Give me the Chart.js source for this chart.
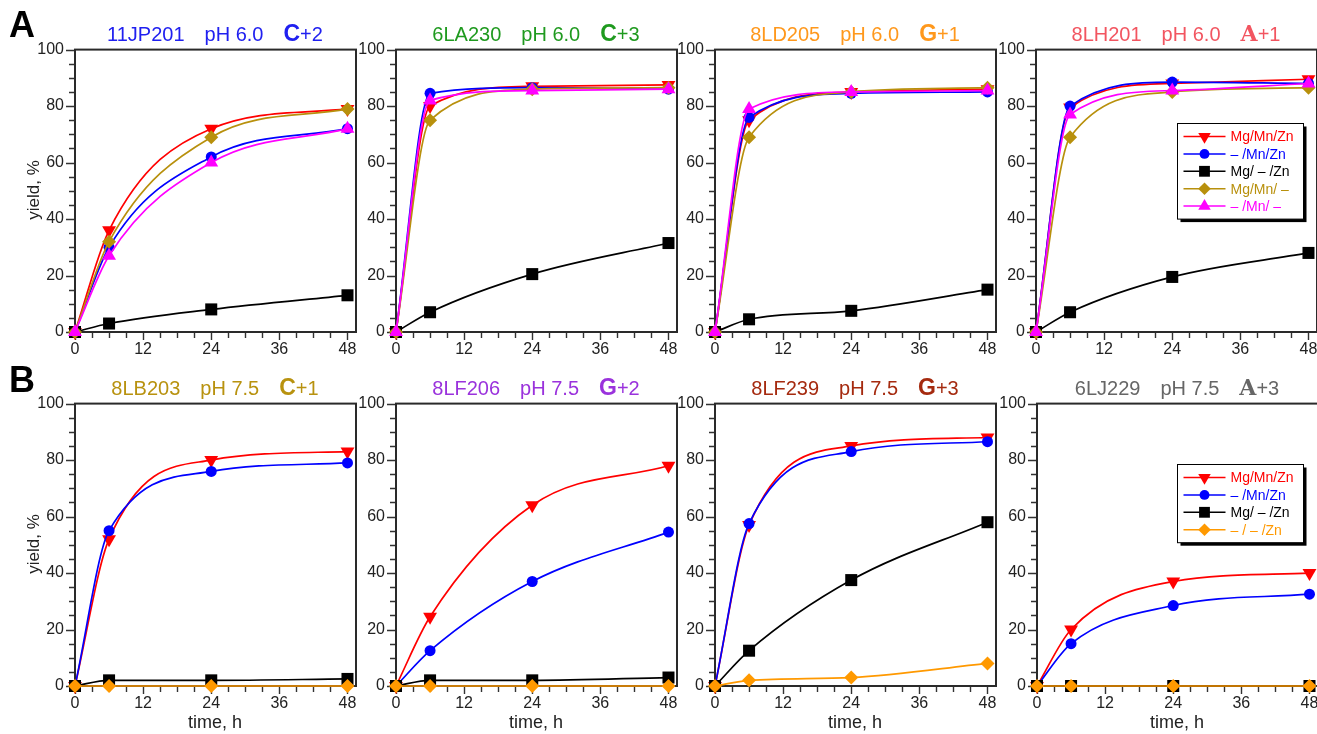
<!DOCTYPE html>
<html>
<head>
<meta charset="utf-8">
<script src="https://cdn.jsdelivr.net/npm/chart.js@4.4.0/dist/chart.umd.min.js"></script>
<style>
  html, body { margin: 0; padding: 0; background: #fff; overflow: hidden; }
  #fig { position: relative; width: 1317px; height: 734px; overflow: hidden; font-family: "Liberation Sans", Arial, sans-serif; }
  #fig canvas { position: absolute; }
  .ttl { position: absolute; white-space: nowrap; font-size: 20px; line-height: 20px; transform: translateX(-50%); z-index: 5; }
  .ttl span { margin-left: 20px; }
  .ttl span:first-child { margin-left: 0; }
  .ttl b { font-size: 23px; }
  .ttl b.mono { font-family: "DejaVu Serif", "Liberation Serif", serif; font-size: 22px; }
  .letter { position: absolute; left: 9px; font-weight: bold; font-size: 36px; line-height: 36px; z-index: 5; }
  .ylab { position: absolute; font-size: 17px; line-height: 17px; color: #222; white-space: nowrap; transform: translate(-50%, -50%) rotate(-90deg); z-index: 5; }
  .xlab { position: absolute; font-size: 18px; line-height: 18px; color: #222; white-space: nowrap; transform: translate(-50%, -50%); z-index: 5; }
</style>
</head>
<body>
<div id="fig">
  <div class="letter" style="top:7px">A</div>
  <div class="letter" style="top:362px">B</div>
</div>
<script>
// sampling times (h) and axis ticks
const times = [0, 6, 24, 48];
const xTicks = [0, 12, 24, 36, 48];
const yTicks = [0, 20, 40, 60, 80, 100];

const labelsA = ['Mg/Mn/Zn', '\u2013 /Mn/Zn', 'Mg/ \u2013 /Zn', 'Mg/Mn/ \u2013', '\u2013 /Mn/ \u2013'];
const labelsB = ['Mg/Mn/Zn', '\u2013 /Mn/Zn', 'Mg/ \u2013 /Zn', '\u2013 / \u2013 /Zn'];

// A1  11JP201
const jp201_MgMnZn = [0, 36, 72, 79];
const jp201_MnZn   = [0, 30, 62, 72];
const jp201_MgZn   = [0, 3, 8, 13];
const jp201_MgMn   = [0, 32, 69, 79];
const jp201_Mn     = [0, 27, 60, 72];
// A2  6LA230
const la230_MgMnZn = [0, 80, 87, 87.5];
const la230_MnZn   = [0, 84.5, 86.5, 86];
const la230_MgZn   = [0, 7, 20.5, 31.5];
const la230_MgMn   = [0, 75, 86, 86.5];
const la230_Mn     = [0, 82, 85.5, 86];
// A3  8LD205
const ld205_MgMnZn = [0, 75, 85, 86];
const ld205_MnZn   = [0, 76, 84.5, 85];
const ld205_MgZn   = [0, 4.5, 7.5, 15];
const ld205_MgMn   = [0, 69, 85, 86.5];
const ld205_Mn     = [0, 79, 85, 85.5];
// A4  8LH201
const lh201_MgMnZn = [0, 79.5, 88, 89.5];
const lh201_MnZn   = [0, 80, 88.5, 88];
const lh201_MgZn   = [0, 7, 19.5, 28];
const lh201_MgMn   = [0, 69, 85, 86.5];
const lh201_Mn     = [0, 77, 85.5, 88];
// B1  8LB203
const lb203_MgMnZn = [0, 52, 80, 83];
const lb203_MnZn   = [0, 55, 76, 79];
const lb203_MgZn   = [0, 2, 2, 2.5];
const lb203_Zn     = [0, 0, 0, 0];
// B2  8LF206
const lf206_MgMnZn = [0, 24.5, 64, 78];
const lf206_MnZn   = [0, 12.5, 37, 54.5];
const lf206_MgZn   = [0, 2, 2, 3];
const lf206_Zn     = [0, 0, 0, 0];
// B3  8LF239
const lf239_MgMnZn = [0, 57, 85, 88];
const lf239_MnZn   = [0, 57.5, 83, 86.5];
const lf239_MgZn   = [0, 12.5, 37.5, 58];
const lf239_Zn     = [0, 2, 3, 8];
// B4  6LJ229
const lj229_MgMnZn = [0, 20, 37, 40];
const lj229_MnZn   = [0, 15, 28.5, 32.5];
const lj229_MgZn   = [0, 0, 0, 0];
const lj229_Zn     = [0, 0, 0, 0];

const RED = '#ff0000', BLUE = '#0000ff', BLACK = '#000000', GOLD = '#b8900c', MAG = '#ff00ff', ORANGE = '#ff9900';
const stylesA = [
  { color: RED, pointStyle: 'triangle', rot: 180, r: 8 },
  { color: BLUE, pointStyle: 'circle', rot: 0, r: 5.5 },
  { color: BLACK, pointStyle: 'rect', rot: 0, r: 8.5 },
  { color: GOLD, pointStyle: 'rectRot', rot: 0, r: 7 },
  { color: MAG, pointStyle: 'triangle', rot: 0, r: 8 }
];
const stylesB = [stylesA[0], stylesA[1], stylesA[2], { color: ORANGE, pointStyle: 'rectRot', rot: 0, r: 7 }];

const FONT = '"Liberation Sans", Arial, sans-serif';

// frame + major/minor ticks
const axisDecor = {
  id: 'axisDecor',
  beforeDatasetsDraw(chart) {
    const { ctx, chartArea: a, scales: { x, y } } = chart;
    ctx.save();
    ctx.strokeStyle = '#333';
    ctx.lineWidth = 1.4;
    ctx.beginPath();
    for (let v = 0; v <= 100; v += 5) {
      const py = Math.round(y.getPixelForValue(v)) + 0.5;
      const len = v % 20 === 0 ? 9 : 6;
      ctx.moveTo(a.left, py); ctx.lineTo(a.left - len, py);
    }
    for (let v = 0; v <= 48; v += 3) {
      const px = Math.round(x.getPixelForValue(v)) + 0.5;
      const len = v % 12 === 0 ? 8 : 6;
      ctx.moveTo(px, a.bottom); ctx.lineTo(px, a.bottom + len);
    }
    ctx.stroke();
    ctx.lineWidth = 2;
    ctx.strokeStyle = '#2a2a2a';
    ctx.strokeRect(a.left, a.top, a.right - a.left, a.bottom - a.top);
    ctx.restore();
  }
};

// boxed legend with drop shadow
const boxLegend = {
  id: 'boxLegend',
  afterDatasetsDraw(chart, args, opts) {
    if (!opts.show) return;
    const { ctx, chartArea: a } = chart;
    const ds = chart.data.datasets;
    const rowH = 17.4, w = 126, h = ds.length * rowH + 8.6;
    const bx = Math.round(a.left + opts.x) + 0.5, by = Math.round(a.top + opts.y) + 0.5;
    ctx.save();
    ctx.fillStyle = '#000';
    ctx.fillRect(bx + 3, by + 3, w, h);
    ctx.fillStyle = '#fff';
    ctx.fillRect(bx, by, w, h);
    ctx.strokeStyle = '#000';
    ctx.lineWidth = 1;
    ctx.strokeRect(bx, by, w, h);
    ctx.font = '14px ' + FONT;
    ctx.textBaseline = 'middle';
    ds.forEach((d, i) => {
      const cy = by + 4.3 + rowH * (i + 0.5);
      ctx.strokeStyle = d.borderColor;
      ctx.fillStyle = d.borderColor;
      ctx.lineWidth = 1.5;
      ctx.beginPath();
      ctx.moveTo(bx + 6, cy); ctx.lineTo(bx + 48, cy);
      ctx.stroke();
      Chart.helpers.drawPoint(ctx, { pointStyle: d.pointStyle, rotation: d.pointRotation, radius: d.pointRadius * 0.9, borderWidth: 0 }, bx + 27, cy);
      ctx.fillText(d.label, bx + 53, cy + 1);
    });
    ctx.restore();
  }
};

function makePanel(L, T, title, labels, styles, series, legendPos, withXTitle, withYTitle) {
  const fig = document.getElementById('fig');
  const cv = document.createElement('canvas');
  const W = 368, H = 363;
  cv.width = W; cv.height = H;
  cv.style.left = (L - 75) + 'px';
  cv.style.top = (T - 20) + 'px';
  fig.appendChild(cv);

  const t = document.createElement('div');
  t.className = 'ttl';
  t.style.left = (L + 140) + 'px';
  t.style.top = (T - 26) + 'px';
  t.style.color = title.color;
  t.innerHTML = '<span>' + title.name + '</span><span>' + title.ph + '</span><span><b' +
    (title.mono ? ' class="mono"' : '') + '>' + title.base + '</b>' + title.shift + '</span>';
  fig.appendChild(t);

  if (withYTitle) {
    const yl = document.createElement('div');
    yl.className = 'ylab';
    yl.textContent = 'yield, %';
    yl.style.left = '33px';
    yl.style.top = (T + 141) + 'px';
    fig.appendChild(yl);
  }
  if (withXTitle) {
    const xl = document.createElement('div');
    xl.className = 'xlab';
    xl.textContent = 'time, h';
    xl.style.left = (L + 140) + 'px';
    xl.style.top = (T + 319) + 'px';
    fig.appendChild(xl);
  }

  const n = series.length;
  const datasets = series.map((vals, i) => ({
    label: labels[i],
    data: times.map((tm, k) => ({ x: tm, y: vals[k] })),
    borderColor: styles[i].color,
    backgroundColor: styles[i].color,
    pointBackgroundColor: styles[i].color,
    pointBorderColor: styles[i].color,
    pointBorderWidth: 0,
    pointStyle: styles[i].pointStyle,
    pointRotation: styles[i].rot,
    pointRadius: styles[i].r,
    borderWidth: 1.7,
    cubicInterpolationMode: 'monotone',
    fill: false,
    clip: false,
    order: n - i
  }));

  new Chart(cv, {
    type: 'line',
    data: { datasets },
    plugins: [axisDecor, boxLegend],
    options: {
      responsive: false,
      animation: false,
      events: [],
      layout: { padding: { top: 20, right: W - 75 - 281, left: 0, bottom: 0 } },
      plugins: {
        legend: { display: false },
        tooltip: { enabled: false },
        boxLegend: legendPos ? { show: true, x: legendPos[0], y: legendPos[1] } : { show: false }
      },
      scales: {
        x: {
          type: 'linear', min: 0, max: 49.5,
          afterFit(s) { s.height = 60; },
          afterBuildTicks(s) { s.ticks = xTicks.map(v => ({ value: v })); },
          ticks: { padding: 8, color: '#222', font: { family: FONT, size: 16 }, maxRotation: 0, autoSkip: false },
          grid: { display: true, drawOnChartArea: false, drawTicks: false },
          border: { display: false }
        },
        y: {
          type: 'linear', min: 0, max: 100,
          afterFit(s) { s.width = 75; },
          afterBuildTicks(s) { s.ticks = yTicks.map(v => ({ value: v })); },
          ticks: { padding: 11, color: '#222', font: { family: FONT, size: 16 } },
          grid: { display: true, drawOnChartArea: false, drawTicks: false },
          border: { display: false }
        }
      }
    }
  });
}

const rowA = 49, rowB = 403;
const lefts = [75, 396, 715, 1036];

makePanel(lefts[0], rowA, { name: '11JP201', ph: 'pH 6.0', base: 'C', shift: '+2', color: '#2020f0' },
  labelsA, stylesA, [jp201_MgMnZn, jp201_MnZn, jp201_MgZn, jp201_MgMn, jp201_Mn], null, false, true);
makePanel(lefts[1], rowA, { name: '6LA230', ph: 'pH 6.0', base: 'C', shift: '+3', color: '#1f9a1f' },
  labelsA, stylesA, [la230_MgMnZn, la230_MnZn, la230_MgZn, la230_MgMn, la230_Mn], null, false, false);
makePanel(lefts[2], rowA, { name: '8LD205', ph: 'pH 6.0', base: 'G', shift: '+1', color: '#ff981c' },
  labelsA, stylesA, [ld205_MgMnZn, ld205_MnZn, ld205_MgZn, ld205_MgMn, ld205_Mn], null, false, false);
makePanel(lefts[3], rowA, { name: '8LH201', ph: 'pH 6.0', base: 'A', shift: '+1', color: '#f25560', mono: true },
  labelsA, stylesA, [lh201_MgMnZn, lh201_MnZn, lh201_MgZn, lh201_MgMn, lh201_Mn], [141, 73], false, false);

makePanel(lefts[0], rowB, { name: '8LB203', ph: 'pH 7.5', base: 'C', shift: '+1', color: '#b8920f' },
  labelsB, stylesB, [lb203_MgMnZn, lb203_MnZn, lb203_MgZn, lb203_Zn], null, true, true);
makePanel(lefts[1], rowB, { name: '8LF206', ph: 'pH 7.5', base: 'G', shift: '+2', color: '#9a32dc' },
  labelsB, stylesB, [lf206_MgMnZn, lf206_MnZn, lf206_MgZn, lf206_Zn], null, true, false);
makePanel(lefts[2], rowB, { name: '8LF239', ph: 'pH 7.5', base: 'G', shift: '+3', color: '#a52a0f' },
  labelsB, stylesB, [lf239_MgMnZn, lf239_MnZn, lf239_MgZn, lf239_Zn], null, true, false);
makePanel(lefts[3] + 1, rowB, { name: '6LJ229', ph: 'pH 7.5', base: 'A', shift: '+3', color: '#666666', mono: true },
  labelsB, stylesB, [lj229_MgMnZn, lj229_MnZn, lj229_MgZn, lj229_Zn], [140, 60], true, false);
</script>
</body>
</html>
